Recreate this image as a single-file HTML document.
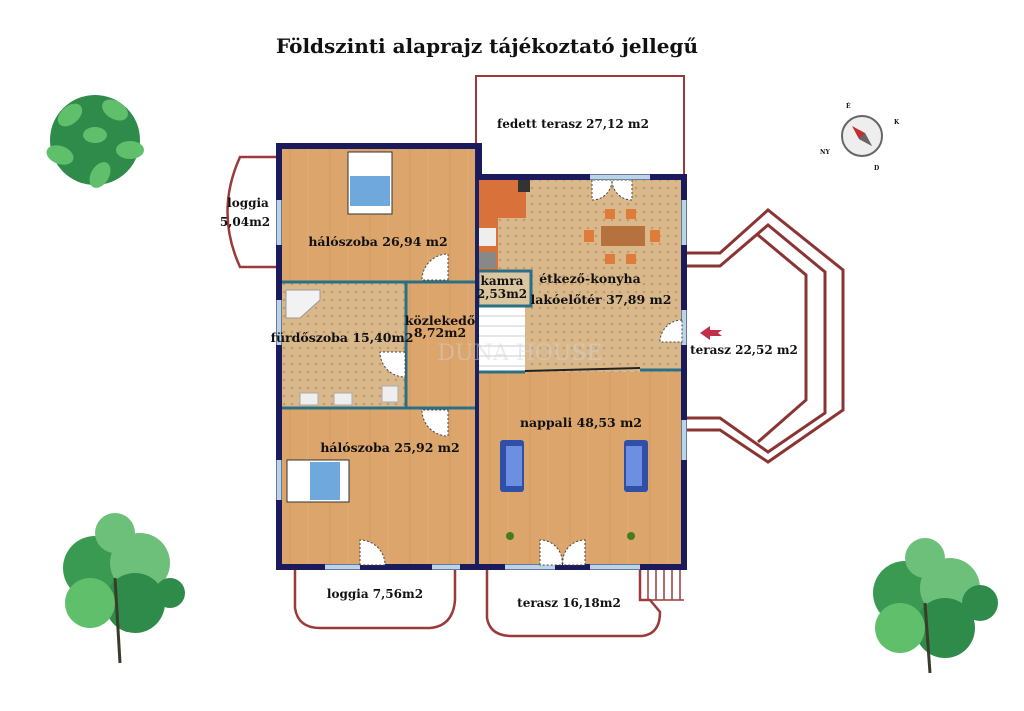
<!DOCTYPE html>
<html><head><meta charset="utf-8"><style>
html,body{margin:0;padding:0;background:#fff;}
svg{display:block}
text{font-family:"DejaVu Serif","Liberation Serif",serif;font-weight:bold;fill:#111}
</style></head><body>
<svg width="1024" height="711" viewBox="0 0 1024 711" xmlns="http://www.w3.org/2000/svg">
<defs>
<pattern id="wood" width="40" height="40" patternUnits="userSpaceOnUse">
<rect width="40" height="40" fill="#dba56c"/>
<line x1="10" y1="0" x2="10" y2="40" stroke="#d49a60" stroke-width="1"/>
<line x1="28" y1="0" x2="28" y2="40" stroke="#e0ad77" stroke-width="1"/>
</pattern>
<pattern id="tile" width="8" height="8" patternUnits="userSpaceOnUse">
<rect width="8" height="8" fill="#d9b98c"/>
<circle cx="4" cy="4" r="1.3" fill="#c59a68"/>
</pattern>
</defs>

<text x="487" y="53" font-size="20" text-anchor="middle">Földszinti alaprajz tájékoztató jellegű</text>

<path d="M476,176 L476,76 L684,76 L684,176" fill="none" stroke="#9b3a3a" stroke-width="2"/>
<text x="573" y="128" font-size="12" text-anchor="middle">fedett terasz 27,12 m2</text>

<path d="M278,157 L240,157 Q215,212 240,267 L278,267" fill="none" stroke="#9b3a3a" stroke-width="2.5"/>
<text x="248" y="207" font-size="12" text-anchor="middle">loggia</text>
<text x="245" y="226" font-size="12" text-anchor="middle">5,04m2</text>

<g fill="none" stroke="#8b3434" stroke-width="3">
<polyline points="684,253 720,253 768,210 843,270 843,410 768,462 720,430 684,430"/>
<polyline points="684,266 720,266 768,225 825,272 825,413 768,452 720,418 684,418"/>
<polyline points="758,235 806,275 806,400 758,442"/>
</g>
<path d="M700,333 L710,326 L710,330 L722,330 L718,333 L722,336 L710,336 L710,340 Z" fill="#c0304a"/>
<text x="744" y="354" font-size="12" text-anchor="middle">terasz 22,52 m2</text>

<path d="M295,567 L295,608 Q298,628 320,628 L430,628 Q453,626 455,600 L455,567" fill="none" stroke="#9b3a3a" stroke-width="2.5"/>
<text x="375" y="598" font-size="12" text-anchor="middle">loggia 7,56m2</text>
<path d="M487,567 L487,618 Q490,636 512,636 L642,636 Q660,634 660,612 L650,600 L640,600 L640,567" fill="none" stroke="#9b3a3a" stroke-width="2.5"/>
<g stroke="#9b3a3a" stroke-width="1.5"><line x1="648" y1="570" x2="648" y2="600"/><line x1="656" y1="570" x2="656" y2="600"/><line x1="664" y1="570" x2="664" y2="600"/><line x1="672" y1="570" x2="672" y2="600"/><line x1="680" y1="570" x2="680" y2="600"/><line x1="640" y1="600" x2="684" y2="600"/></g>
<text x="569" y="607" font-size="12" text-anchor="middle">terasz 16,18m2</text>

<rect x="280" y="148" width="196" height="134" fill="url(#wood)"/>
<rect x="280" y="282" width="126" height="126" fill="url(#tile)"/>
<rect x="406" y="282" width="70" height="126" fill="url(#wood)"/>
<rect x="280" y="408" width="196" height="159" fill="url(#wood)"/>
<rect x="476" y="178" width="208" height="194" fill="url(#tile)"/>
<rect x="476" y="372" width="208" height="195" fill="url(#wood)"/>
<rect x="476" y="178" width="50" height="40" fill="#d9713a"/>
<rect x="476" y="178" width="22" height="108" fill="#d9713a"/>
<rect x="518" y="180" width="12" height="12" fill="#333"/>
<rect x="478" y="228" width="18" height="18" fill="#eee"/>
<rect x="478" y="252" width="18" height="16" fill="#888"/>
<rect x="478" y="306" width="47" height="66" fill="#fff"/>
<g stroke="#ccc"><line x1="478" y1="316" x2="525" y2="316"/><line x1="478" y1="326" x2="525" y2="326"/><line x1="478" y1="336" x2="525" y2="336"/><line x1="478" y1="346" x2="525" y2="346"/><line x1="478" y1="356" x2="525" y2="356"/><line x1="478" y1="366" x2="525" y2="366"/></g>
<rect x="478" y="271" width="53" height="35" fill="#dcc6a0" stroke="#2b6f86" stroke-width="3"/>

<rect x="348" y="152" width="44" height="62" fill="#fff" stroke="#333"/>
<rect x="350" y="176" width="40" height="30" fill="#6fa8dc"/>
<rect x="287" y="460" width="62" height="42" fill="#fff" stroke="#333"/>
<rect x="310" y="462" width="30" height="38" fill="#6fa8dc"/>
<rect x="500" y="440" width="24" height="52" fill="#2f4fa8" rx="3"/>
<rect x="506" y="446" width="16" height="40" fill="#6c8fe0"/>
<rect x="624" y="440" width="24" height="52" fill="#2f4fa8" rx="3"/>
<rect x="626" y="446" width="16" height="40" fill="#6c8fe0"/>
<circle cx="510" cy="536" r="4" fill="#4a7a20"/><circle cx="631" cy="536" r="4" fill="#4a7a20"/>
<rect x="601" y="226" width="44" height="20" fill="#b5713e"/>
<g fill="#e07c3a"><rect x="605" y="209" width="10" height="10"/><rect x="626" y="209" width="10" height="10"/><rect x="605" y="254" width="10" height="10"/><rect x="626" y="254" width="10" height="10"/><rect x="584" y="230" width="10" height="12"/><rect x="650" y="230" width="10" height="12"/></g>
<path d="M286,290 L320,290 L320,300 L300,318 L286,318 Z" fill="#f2f2f2" stroke="#999"/>
<rect x="300" y="393" width="18" height="12" fill="#eee" stroke="#aaa"/><rect x="334" y="393" width="18" height="12" fill="#eee" stroke="#aaa"/><rect x="382" y="386" width="16" height="16" fill="#eee" stroke="#aaa"/>

<g stroke="#2b6f86" stroke-width="3" fill="none">
<line x1="280" y1="282" x2="476" y2="282"/>
<line x1="406" y1="282" x2="406" y2="408"/>
<line x1="280" y1="408" x2="476" y2="408"/>
<line x1="478" y1="372" x2="525" y2="372"/>
<line x1="640" y1="370" x2="684" y2="370"/>
</g>
<line x1="525" y1="371" x2="640" y2="368" stroke="#222" stroke-width="2"/>
<line x1="477" y1="148" x2="477" y2="567" stroke="#1a2060" stroke-width="4"/>
<path d="M279,146 L479,146 L479,177 L684,177 L684,567 L279,567 Z" fill="none" stroke="#1a1a5c" stroke-width="6"/>
<g stroke="#b8d4e6" stroke-width="5">
<line x1="279" y1="200" x2="279" y2="245"/><line x1="279" y1="300" x2="279" y2="345"/><line x1="279" y1="460" x2="279" y2="500"/>
<line x1="325" y1="567" x2="360" y2="567"/><line x1="432" y1="567" x2="460" y2="567"/><line x1="505" y1="567" x2="555" y2="567"/><line x1="590" y1="567" x2="640" y2="567"/>
<line x1="590" y1="177" x2="650" y2="177"/><line x1="684" y1="200" x2="684" y2="245"/><line x1="684" y1="420" x2="684" y2="460"/><line x1="684" y1="310" x2="684" y2="345"/>
</g>
<g fill="#fff" stroke="#444" stroke-dasharray="2,2" stroke-width="1">
<path d="M448,280 L448,254 A26,26 0 0 0 422,280 Z"/>
<path d="M448,410 L448,436 A26,26 0 0 1 422,410 Z"/>
<path d="M405,352 L380,352 A25,25 0 0 0 405,377 Z"/>
<path d="M682,320 A22,22 0 0 0 660,342 L682,342 Z"/>
<path d="M360,565 L360,540 A25,25 0 0 1 385,565 Z"/>
<path d="M540,565 L540,540 A22,22 0 0 1 562,565 Z"/><path d="M585,565 L585,540 A22,22 0 0 0 563,565 Z"/>
<path d="M592,180 L592,200 A20,20 0 0 0 612,180 Z"/><path d="M632,180 L632,200 A20,20 0 0 1 612,180 Z"/>
</g>

<text x="520" y="360" font-size="22" text-anchor="middle" style="fill:#d0d4e0;opacity:0.45;font-weight:normal">DUNA HOUSE</text>
<text x="378" y="246" font-size="12.5" text-anchor="middle">hálószoba 26,94 m2</text>
<text x="342" y="342" font-size="12.5" text-anchor="middle">fürdőszoba 15,40m2</text>
<text x="440" y="325" font-size="12.5" text-anchor="middle">közlekedő</text>
<text x="440" y="337" font-size="12.5" text-anchor="middle">8,72m2</text>
<text x="502" y="285" font-size="12" text-anchor="middle">kamra</text>
<text x="502" y="298" font-size="12" text-anchor="middle">2,53m2</text>
<text x="590" y="283" font-size="12.5" text-anchor="middle">étkező-konyha</text>
<text x="601" y="304" font-size="12.5" text-anchor="middle">lakóelőtér 37,89 m2</text>
<text x="581" y="427" font-size="12.5" text-anchor="middle">nappali 48,53 m2</text>
<text x="390" y="452" font-size="12.5" text-anchor="middle">hálószoba 25,92 m2</text>

<g transform="translate(862,136)">
<circle r="20" fill="#eee" stroke="#666" stroke-width="2"/>
<path d="M-10,-10 L3,-3 L10,10 L-3,3 Z" fill="#c03030"/>
<path d="M-3,3 L10,10 L3,-3 Z" fill="#666"/>
<text x="-16" y="-28" font-size="6">É</text><text x="32" y="-12" font-size="6">K</text><text x="12" y="34" font-size="6">D</text><text x="-42" y="18" font-size="6">NY</text>
</g>

<g transform="translate(95,140)">
<circle r="45" fill="#2e8b4a"/>
<g fill="#5fbf6b"><ellipse cx="-25" cy="-25" rx="14" ry="9" transform="rotate(-40 -25 -25)"/><ellipse cx="20" cy="-30" rx="14" ry="9" transform="rotate(30 20 -30)"/><ellipse cx="35" cy="10" rx="14" ry="9"/><ellipse cx="-35" cy="15" rx="14" ry="9" transform="rotate(20 -35 15)"/><ellipse cx="5" cy="35" rx="14" ry="9" transform="rotate(-60 5 35)"/><ellipse cx="0" cy="-5" rx="12" ry="8"/></g>
</g>
<g transform="translate(115,578)">
<circle cx="-20" cy="-10" r="32" fill="#3a9a52"/><circle cx="25" cy="-15" r="30" fill="#6cc07a"/><circle cx="20" cy="25" r="30" fill="#2e8b4a"/><circle cx="-25" cy="25" r="25" fill="#5fbf6b"/><circle cx="0" cy="-45" r="20" fill="#6cc07a"/><circle cx="55" cy="15" r="15" fill="#2e8b4a"/>
<line x1="0" y1="0" x2="5" y2="85" stroke="#3b3b2a" stroke-width="3"/>
</g>
<g transform="translate(925,603)">
<circle cx="-20" cy="-10" r="32" fill="#3a9a52"/><circle cx="25" cy="-15" r="30" fill="#6cc07a"/><circle cx="20" cy="25" r="30" fill="#2e8b4a"/><circle cx="-25" cy="25" r="25" fill="#5fbf6b"/><circle cx="0" cy="-45" r="20" fill="#6cc07a"/><circle cx="55" cy="0" r="18" fill="#2e8b4a"/>
<line x1="0" y1="0" x2="5" y2="70" stroke="#3b3b2a" stroke-width="3"/>
</g>
</svg>
</body></html>
